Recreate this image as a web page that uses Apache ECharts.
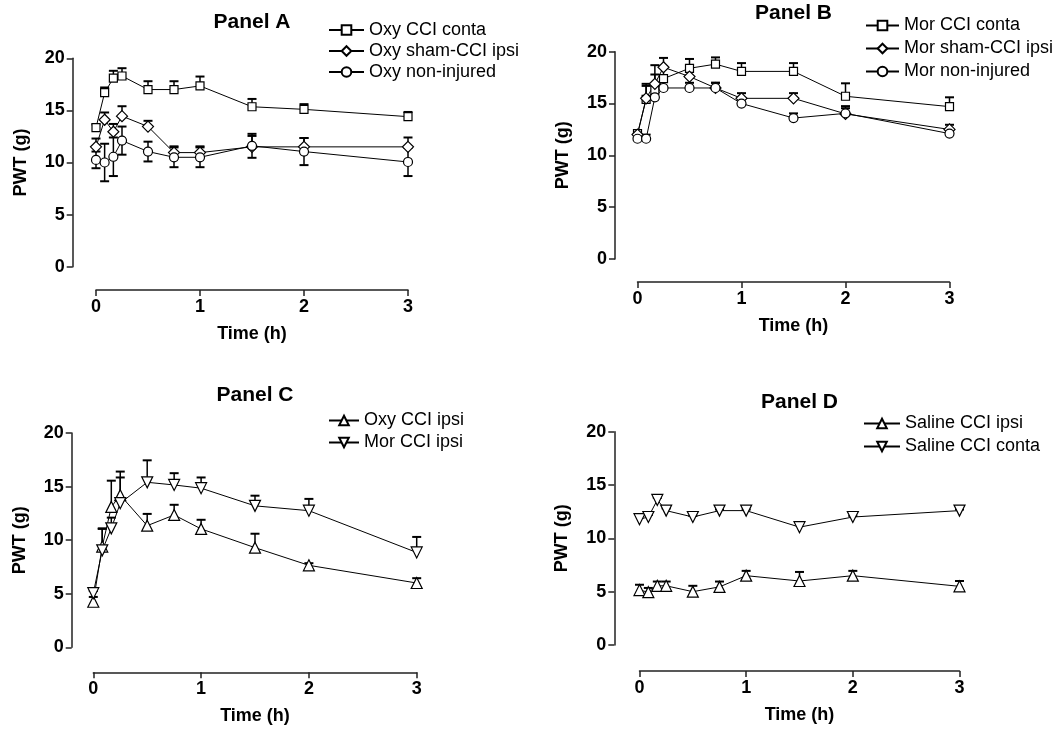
<!DOCTYPE html>
<html><head><meta charset="utf-8">
<script src="https://cdn.jsdelivr.net/npm/echarts@6/dist/echarts.min.js"></script>
<style>html,body{margin:0;padding:0;background:#fff}#c{width:1062px;height:731px}</style>
</head><body><div id="c"></div>
<script>
// Time points (h)
const times = [0, 0.083, 0.167, 0.25, 0.5, 0.75, 1, 1.5, 2, 3];
const xTickValues = [0, 1, 2, 3];
const yTickValues = [0, 5, 10, 15, 20];
const panelTitles = ['Panel A', 'Panel B', 'Panel C', 'Panel D'];

// Panel A
const oxyCciConta       = [13.35, 16.7, 18.1, 18.3, 17.0, 17.0, 17.35, 15.35, 15.1, 14.4];
const oxyCciContaErr    = [0.3, 0.5, 0.7, 0.75, 0.8, 0.8, 0.9, 0.75, 0.5, 0.45];
const oxyShamIpsi       = [11.5, 14.1, 12.95, 14.45, 13.45, 10.95, 10.95, 11.5, 11.5, 11.5];
const oxyShamIpsiErr    = [0.8, 0.7, 0.75, 0.95, 0.55, 0.6, 0.6, 1.05, 0.85, 0.9];
const oxyNonInjured     = [10.25, 10.0, 10.55, 12.1, 11.05, 10.5, 10.5, 11.6, 11.05, 10.05];
const oxyNonInjuredErr  = [0.8, 1.8, 1.85, 1.35, 0.95, 0.95, 0.95, 1.15, 1.3, 1.35];
// Panel B
const morCciConta       = [12.1, 15.4, 16.3, 17.4, 18.4, 18.8, 18.1, 18.1, 15.7, 14.7];
const morCciContaErr    = [0.3, 1.5, 1.5, 1.2, 0.9, 0.65, 0.8, 0.8, 1.25, 0.9];
const morShamIpsi       = [12.0, 15.5, 16.9, 18.5, 17.6, 16.5, 15.5, 15.5, 14.0, 12.5];
const morShamIpsiErr    = [0.4, 1.2, 1.8, 0.9, 0.5, 0.5, 0.5, 0.5, 0.75, 0.45];
const morNonInjured     = [11.6, 11.6, 15.6, 16.5, 16.5, 16.5, 15.0, 13.6, 14.05, 12.1];
const morNonInjuredErr  = [0.3, 0.4, 1.3, 0.6, 0.5, 0.5, 0.4, 0.45, 0.5, 0.3];
// Panel C
const oxyCciIpsi        = [4.25, 9.4, 13.1, 14.2, 11.35, 12.35, 11.05, 9.3, 7.65, 6.0];
const oxyCciIpsiErr     = [0.45, 1.7, 2.45, 2.2, 1.1, 0.95, 0.85, 1.3, 0.2, 0.45];
const morCciIpsi        = [5.05, 9.05, 11.1, 13.45, 15.4, 15.15, 14.85, 13.2, 12.75, 8.85];
const morCciIpsiErr     = [0.2, 2.0, 1.0, 2.4, 2.05, 1.1, 1.0, 0.95, 1.1, 1.45];
// Panel D
const salineCciIpsi     = [5.15, 4.95, 5.55, 5.55, 5.0, 5.45, 6.5, 6.0, 6.5, 5.5];
const salineCciIpsiErr  = [0.5, 0.4, 0.4, 0.4, 0.55, 0.5, 0.45, 0.85, 0.45, 0.5];
const salineCciConta    = [11.8, 12.0, 13.6, 12.6, 12.0, 12.6, 12.6, 11.05, 12.0, 12.6];
const salineCciContaErr = [0.3, 0.2, 0.2, 0.2, 0.1, 0.1, 0.1, 0.3, 0.1, 0.1];

const seriesDefs = [
  {name:'Oxy CCI conta', v:oxyCciConta, e:oxyCciContaErr, sym:'rect', size:8, rot:0, dir:'up', g:0},
  {name:'Oxy sham-CCI ipsi', v:oxyShamIpsi, e:oxyShamIpsiErr, sym:'diamond', size:11, rot:0, dir:'up', g:0},
  {name:'Oxy non-injured', v:oxyNonInjured, e:oxyNonInjuredErr, sym:'circle', size:9, rot:0, dir:'both', g:0},
  {name:'Mor CCI conta', v:morCciConta, e:morCciContaErr, sym:'rect', size:8, rot:0, dir:'up', g:1},
  {name:'Mor sham-CCI ipsi', v:morShamIpsi, e:morShamIpsiErr, sym:'diamond', size:11, rot:0, dir:'up', g:1},
  {name:'Mor non-injured', v:morNonInjured, e:morNonInjuredErr, sym:'circle', size:9, rot:0, dir:'up', g:1},
  {name:'Oxy CCI ipsi', v:oxyCciIpsi, e:oxyCciIpsiErr, sym:'triangle', size:11, rot:0, dir:'up', g:2},
  {name:'Mor CCI ipsi', v:morCciIpsi, e:morCciIpsiErr, sym:'triangle', size:11, rot:180, dir:'up', g:2},
  {name:'Saline CCI ipsi', v:salineCciIpsi, e:salineCciIpsiErr, sym:'triangle', size:11, rot:0, dir:'up', g:3},
  {name:'Saline CCI conta', v:salineCciConta, e:salineCciContaErr, sym:'triangle', size:11, rot:180, dir:'up', g:3}
];

const FONT = 'Liberation Sans, Arial, Helvetica, sans-serif';
const grids = [
  {left:96,    top:58.3,  width:312,   height:208.4},
  {left:637.5, top:51.7,  width:312,   height:207.3},
  {left:93.3,  top:433,   width:323.4, height:214.3},
  {left:639.5, top:431.7, width:320,   height:213.3}
];
const yOffsets = [23.3, 22.5, 21.6, 25.2];
const xOffsets = [23.3, 23, 25, 26];
const titlePos = [[252, 12], [793.5, 3], [255, 385], [799.5, 392]];
const legendPos = [
  {left:328, top:21, itemWidth:35, itemGap:3},
  {left:865, top:16.5, itemWidth:33, itemGap:5},
  {left:328, top:411.5, itemWidth:30, itemGap:4},
  {left:863, top:414.5, itemWidth:36, itemGap:5}
];

const axisStyle = {color:'#222', width:1.5};
const labelStyle = {color:'#000', fontSize:18, fontWeight:'bold', fontFamily:FONT};

const xAxes = grids.map((g,i)=>({
  type:'value', gridIndex:i, min:xTickValues[0], max:xTickValues[xTickValues.length-1], interval:1,
  offset:xOffsets[i],
  axisLine:{show:true, onZero:false, lineStyle:axisStyle},
  axisTick:{show:true, length:6, lineStyle:axisStyle},
  axisLabel:{...labelStyle, margin:8},
  splitLine:{show:false},
  name:'Time (h)', nameLocation:'middle', nameGap:35,
  nameTextStyle:{...labelStyle}
}));
const yAxes = grids.map((g,i)=>({
  type:'value', gridIndex:i, min:yTickValues[0], max:yTickValues[yTickValues.length-1], interval:5,
  offset:yOffsets[i],
  axisLine:{show:true, onZero:false, lineStyle:axisStyle},
  axisTick:{show:true, length:6, lineStyle:axisStyle},
  axisLabel:{...labelStyle, margin:8},
  splitLine:{show:false},
  name:'PWT (g)', nameLocation:'middle', nameGap:43,
  nameTextStyle:{...labelStyle}
}));

function errRender(dir){
  return function(params, api){
    const x = api.value(0), y = api.value(1), e = api.value(2);
    const c = api.coord([x, y]);
    const hi = api.coord([x, y + e]);
    const lo = api.coord([x, y - e]);
    const cap = 4.5;
    const top = dir === 'down' ? c : hi;
    const bot = dir === 'up' ? c : lo;
    const ch = [{type:'line', shape:{x1:c[0], y1:top[1], x2:c[0], y2:bot[1]}, style:{stroke:'#000', lineWidth:1.5}}];
    if (dir !== 'down') ch.push({type:'line', shape:{x1:c[0]-cap, y1:hi[1], x2:c[0]+cap, y2:hi[1]}, style:{stroke:'#000', lineWidth:2}});
    if (dir !== 'up') ch.push({type:'line', shape:{x1:c[0]-cap, y1:lo[1], x2:c[0]+cap, y2:lo[1]}, style:{stroke:'#000', lineWidth:2}});
    return {type:'group', children:ch};
  };
}

const series = [];
seriesDefs.forEach(d=>{
  series.push({
    type:'custom', name:d.name + ' err', xAxisIndex:d.g, yAxisIndex:d.g, z:1, silent:true, clip:false,
    renderItem:errRender(d.dir),
    encode:{x:0, y:1},
    data:times.map((t,i)=>[t, d.v[i], d.e[i]])
  });
});
seriesDefs.forEach(d=>{
  series.push({
    type:'line', name:d.name, xAxisIndex:d.g, yAxisIndex:d.g, z:3, clip:false,
    symbol:d.sym, symbolSize:d.size, symbolRotate:d.rot, showAllSymbol:true,
    color:'#000',
    lineStyle:{color:'#000', width:1},
    itemStyle:{color:'#fff', borderColor:'#000', borderWidth:1.2},
    emphasis:{disabled:true},
    data:times.map((t,i)=>[t, d.v[i]])
  });
});

const legends = legendPos.map((p,i)=>({
  orient:'vertical', left:p.left, top:p.top, padding:0,
  itemWidth:p.itemWidth, itemHeight:12, itemGap:p.itemGap,
  selectedMode:false,
  textStyle:{color:'#000', fontSize:18, lineHeight:18, fontFamily:FONT},
  data:seriesDefs.filter(d=>d.g===i).map(d=>d.name)
}));

const titles = panelTitles.map((t,i)=>({
  text:t, left:titlePos[i][0], top:titlePos[i][1], textAlign:'center', padding:0,
  textStyle:{color:'#000', fontSize:21, fontWeight:'bold', fontFamily:FONT}
}));

const chart = echarts.init(document.getElementById('c'), null, {renderer:'canvas'});
chart.setOption({
  animation:false,
  backgroundColor:'#fff',
  title:titles,
  legend:legends,
  grid:grids,
  xAxis:xAxes,
  yAxis:yAxes,
  series:series
});
</script></body></html>
